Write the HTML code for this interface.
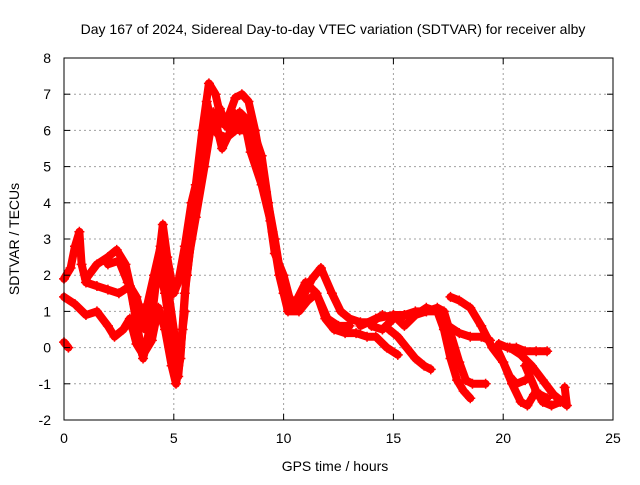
<!DOCTYPE html>
<html><head><meta charset="utf-8"><style>
body{margin:0;background:#fff}
svg text{font-family:"Liberation Sans",sans-serif;font-size:14px;fill:#000}
</style></head><body>
<svg id="chart" width="640" height="480" viewBox="0 0 640 480" xmlns="http://www.w3.org/2000/svg">
<rect width="640" height="480" fill="#fff"/>
<g id="grid"></g>
<g id="series"></g>
<rect x="64" y="58" width="549" height="362" fill="none" stroke="#000" stroke-width="1"/>
<g id="ticks"></g>
<text x="333" y="34" text-anchor="middle">Day 167 of 2024, Sidereal Day-to-day VTEC variation (SDTVAR) for receiver alby</text>
<text x="335" y="471" text-anchor="middle">GPS time / hours</text>
<text transform="translate(19,239) rotate(-90)" text-anchor="middle">SDTVAR / TECUs</text>
</svg>
<script>
const xTicks=[0,5,10,15,20,25];
const yTicks=[-2,-1,0,1,2,3,4,5,6,7,8];
const traceA=[[0,1.9],[0.3,2.2],[0.5,2.8],[0.7,3.2],[0.8,2.3],[1.0,1.8],[1.5,1.7],[2.0,1.6],[2.5,1.5],[3.0,1.7],[3.3,0.7],[3.6,-0.3],[4.0,0.8],[4.5,3.4],[4.7,2.5],[5.0,1.5],[5.2,1.8],[5.5,2.8],[5.8,4.0],[6.0,4.5],[6.3,6],[6.6,7.3],[6.9,7.0],[7.2,6.2],[7.5,6.4],[7.8,6.9],[8.1,7.0],[8.4,6.8],[8.7,6.0],[9.0,5.0],[9.3,4.0],[9.6,3.0],[10,1.5],[10.4,1.1],[10.8,1.3],[11.3,1.9],[11.7,2.2],[12.2,1.5],[12.6,1.0],[13,0.8],[13.5,0.7],[14,0.7],[14.5,0.9],[15,0.8]];
const traceB=[[0,1.4],[0.5,1.2],[1,0.9],[1.5,1.0],[2,0.6],[2.3,0.3],[2.7,0.5],[3.0,0.8],[3.3,0.1],[3.6,-0.2],[4.0,0.2],[4.3,1.1],[4.6,0.5],[4.9,-0.5],[5.1,-1.0],[5.3,-0.3],[5.5,1.5],[5.8,3.0],[6.1,4.3],[6.3,5.5],[6.6,6.4],[7,5.9],[7.4,5.8],[7.8,6.0],[8.2,6.3],[8.5,5.4],[9,4.5],[9.4,3.5],[9.8,2.0],[10.2,1.0],[10.7,1.0],[11.1,1.3],[11.5,1.5],[11.9,0.8],[12.3,0.5],[12.8,0.4],[13.3,0.4],[13.8,0.3],[14.2,0.3],[14.7,0.0],[15.2,-0.2]];
const traceC=[[1,1.9],[1.5,2.3],[2,2.5],[2.4,2.7],[2.8,2.3],[3.2,1.2],[3.5,0.8],[3.8,1.2],[4.1,2.0],[4.4,2.8],[4.7,1.8],[5.0,0.5],[5.2,-0.8],[5.4,0.5],[5.6,2.2],[6.0,3.6],[6.4,5.0],[6.8,6.5],[7.2,5.5],[7.6,6.0],[8.0,6.5],[8.5,6.2],[9.0,5.3],[9.5,3.2],[10,1.6],[10.5,1.2],[11,1.8],[11.5,1.5],[12,0.8],[12.5,0.6],[13,0.6]];
const traceD=[[0,0.15],[0.2,0.0]];
const traceE=[[13.5,0.6],[14.2,0.8],[15,0.9],[15.5,0.9],[16,1.0],[16.5,1.0],[17,1.1],[17.3,1.0],[17.6,0.4],[18,-0.4],[18.3,-0.9],[18.6,-1.0],[19.2,-1.0]];
const traceF=[[14,0.6],[14.5,0.5],[15,0.8],[15.5,0.9],[16,0.9],[16.5,1.0],[17,1.0],[17.3,0.5],[17.6,-0.3],[17.9,-0.9],[18.2,-1.2],[18.5,-1.4]];
const traceG=[[14.8,0.5],[15.2,0.3],[15.6,0.0],[16,-0.3],[16.4,-0.5],[16.7,-0.6]];
const traceH=[[15,0.9],[15.5,0.6],[16,0.9],[16.5,1.1],[17.0,1.0],[17.5,0.6],[18,0.4],[18.5,0.3],[19,0.3],[19.4,0.2]];
const traceI=[[17.6,1.4],[18,1.3],[18.5,1.1],[19,0.6],[19.5,0.0],[20,-0.4],[20.3,-0.8],[20.6,-1.0],[21,-0.9]];
const traceJ=[[19.8,0.1],[20.2,0.0],[20.6,0.0],[21,-0.1],[21.5,-0.1],[22,-0.1]];
const traceK=[[19.7,0.0],[20,-0.4],[20.4,-1.0],[20.8,-1.5],[21.1,-1.6],[21.4,-1.3],[21.7,-1.3],[22,-1.4]];
const traceL=[[20.3,0.0],[20.8,-0.2],[21.3,-0.5],[21.8,-0.9],[22.3,-1.3],[22.7,-1.5],[22.9,-1.6],[22.8,-1.1]];
const traceM=[[21,-0.5],[21.5,-1.2],[21.8,-1.5],[22.2,-1.6],[22.6,-1.5]];
const traceN=[[5.6,2.0],[5.9,3.5],[6.2,5.0],[6.5,6.8],[6.8,6.0],[7.1,6.6],[7.4,6.1],[7.7,6.5],[8.0,6.0],[8.4,6.0],[8.8,5.5],[9.2,4.3],[9.6,2.6],[10.0,2.0],[10.3,1.3]];
const traceO=[[2.0,2.3],[2.5,2.4],[2.9,1.8],[3.3,1.4],[3.7,0.5],[4.0,1.5],[4.3,2.3],[4.6,1.5],[4.9,0.2],[5.2,-0.5],[5.5,1.0]];
const traces=[traceA,traceB,traceC,traceD,traceE,traceF,traceG,traceH,traceI,traceJ,traceK,traceL,traceM,traceN,traceO];

const X0=64,X1=613,Y0=420,Y1=58;
const xs=t=>X0+(t-0)/(25-0)*(X1-X0);
const ys=v=>Y0-(v+2)/(8+2)*(Y0-Y1);
const NS="http://www.w3.org/2000/svg";
const grid=document.getElementById('grid'),ticks=document.getElementById('ticks'),ser=document.getElementById('series');
function mk(tag,attrs,parent){const e=document.createElementNS(NS,tag);for(const k in attrs)e.setAttribute(k,attrs[k]);parent.appendChild(e);return e;}
xTicks.forEach(t=>{
  const x=xs(t);
  if(t>0&&t<25){const g=mk('line',{x1:x,x2:x,y1:Y1,y2:Y0,stroke:'#a0a0a0','stroke-dasharray':'2,3'},grid);
  
  }
  mk('line',{x1:x,x2:x,y1:Y0,y2:Y0-6,stroke:'#000'},ticks);
  mk('line',{x1:x,x2:x,y1:Y1,y2:Y1+6,stroke:'#000'},ticks);
  const l=mk('text',{x:x,y:Y0+23,'text-anchor':'middle'},ticks);l.textContent=t;
  
  
});
yTicks.forEach(v=>{
  const y=ys(v);
  if(v>-2&&v<8){const g=mk('line',{x1:X0,x2:X1,y1:y,y2:y,stroke:'#a0a0a0','stroke-dasharray':'2,3'},grid);
  
  }
  mk('line',{x1:X0,x2:X0+6,y1:y,y2:y,stroke:'#000'},ticks);
  mk('line',{x1:X1,x2:X1-6,y1:y,y2:y,stroke:'#000'},ticks);
  const l=mk('text',{x:X0-13,y:y+5,'text-anchor':'end'},ticks);l.textContent=v;
  
  
});
traces.forEach((tr,i)=>{
  const d=tr.map((p,j)=>(j?'L':'M')+xs(p[0]).toFixed(1)+','+ys(p[1]).toFixed(1)).join('');
  const p=mk('path',{d:d,fill:'none',stroke:'#ff0000','stroke-width':8,'stroke-linejoin':'round','stroke-linecap':'round'},ser);
  
  
  tr.forEach(q=>{
    const cx=xs(q[0]),cy=ys(q[1]);
    const c=mk('path',{d:`M${cx-5},${cy}h10M${cx},${cy-5}v10`,stroke:'#ff0000','stroke-width':1.5},ser);
    
    
  });
});
</script>
</body></html>
